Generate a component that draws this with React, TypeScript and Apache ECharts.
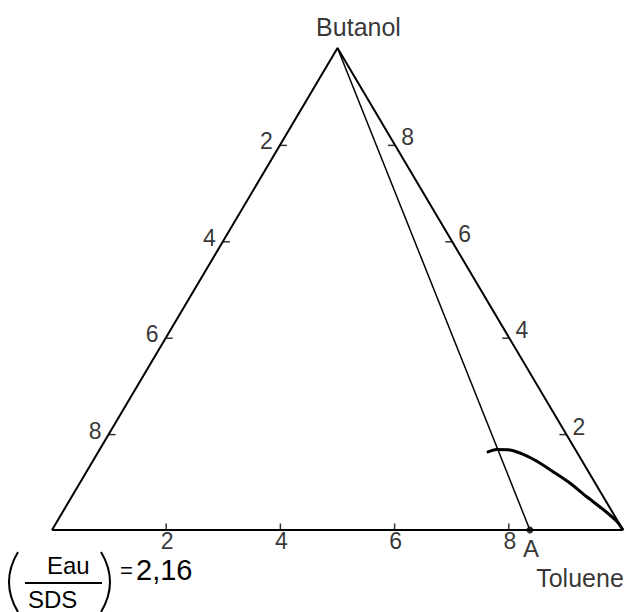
import React, { useEffect, useRef } from "react";
import * as echarts from "echarts";

// Ternary diagram: Eau/SDS (bottom-left), Toluene (bottom-right), Butanol (top); values in tenths
const TICKS = [2, 4, 6, 8];
const VERTICES = [
  { name: "", toluene: 0, butanol: 0 },
  { name: "Toluene", toluene: 10, butanol: 0 },
  { name: "Butanol", toluene: 0, butanol: 10 },
];
const POINT_A = { name: "A", toluene: 8.37, butanol: 0 };
const CURVE_TOLUENE = [6.81, 6.95, 7.19, 7.47, 7.77, 8.17, 8.59, 9.02, 9.45, 9.8, 10.0];
const CURVE_BUTANOL = [1.61, 1.67, 1.66, 1.57, 1.43, 1.21, 0.97, 0.69, 0.42, 0.18, 0];
const RATIO_NUM = "Eau";
const RATIO_DEN = "SDS";
const RATIO_VALUE = "2,16";

const tern = (t: number, b: number): [number, number] => [t + b / 2, b];

const FONT = "'Liberation Sans', Arial, sans-serif";
const INK = "#000";

export default function App() {
  const ref = useRef<HTMLDivElement>(null);
  useEffect(() => {
    if (!ref.current) return;
    const chart = echarts.init(ref.current, undefined, { renderer: "svg" });

    const tri = [VERTICES[0], VERTICES[1], VERTICES[2], VERTICES[0]].map((v) =>
      tern(v.toluene, v.butanol)
    );
    const apex = VERTICES[2];
    const labelStyle = { color: INK, fontSize: 23, fontFamily: FONT };

    chart.setOption({
      animation: false,
      backgroundColor: "#fff",
      grid: { left: 52, right: 3, top: 48, bottom: 82 },
      xAxis: { type: "value", min: 0, max: 10, show: false },
      yAxis: { type: "value", min: 0, max: 10, show: false },
      series: [
        {
          type: "line",
          data: tri,
          symbol: "none",
          lineStyle: { color: INK, width: 2 },
          silent: true,
        },
        {
          type: "line",
          data: [tern(apex.toluene, apex.butanol), tern(POINT_A.toluene, POINT_A.butanol)],
          symbol: "none",
          lineStyle: { color: INK, width: 1.5 },
        },
        {
          type: "line",
          data: CURVE_TOLUENE.map((t, i) => tern(t, CURVE_BUTANOL[i])),
          symbol: "none",
          smooth: 0.25,
          lineStyle: { color: INK, width: 3 },
        },
        // left edge (Eau/SDS fraction)
        {
          type: "scatter",
          symbol: "rect",
          symbolSize: [7, 1.5],
          symbolOffset: [3, 1],
          itemStyle: { color: INK },
          data: TICKS.map((w) => ({ name: String(w), value: tern(0, 10 - w) })),
          label: { show: true, position: "inside", offset: [-17, -4], formatter: "{b}", ...labelStyle },
        },
        // right edge (Butanol fraction)
        {
          type: "scatter",
          symbol: "rect",
          symbolSize: [7, 1.5],
          symbolOffset: [-3, 1],
          itemStyle: { color: INK },
          data: TICKS.map((b) => ({ name: String(b), value: tern(10 - b, b) })),
          label: { show: true, position: "inside", offset: [16, -8], formatter: "{b}", ...labelStyle },
        },
        // bottom edge (Toluene fraction)
        {
          type: "scatter",
          symbol: "rect",
          symbolSize: [1.5, 7],
          symbolOffset: [0, -3],
          itemStyle: { color: INK },
          data: TICKS.map((t) => ({ name: String(t), value: tern(t, 0) })),
          label: { show: true, position: "inside", offset: [1, 14], formatter: "{b}", ...labelStyle },
        },
        // point A
        {
          type: "scatter",
          symbol: "circle",
          symbolSize: 7,
          itemStyle: { color: INK },
          data: [{ name: POINT_A.name, value: tern(POINT_A.toluene, POINT_A.butanol) }],
          label: { show: true, position: "inside", offset: [1, 18], formatter: "{b}", ...labelStyle, fontSize: 24 },
        },
        // vertex names
        {
          type: "scatter",
          symbolSize: 0,
          data: [
            { name: VERTICES[2].name, value: tern(VERTICES[2].toluene, VERTICES[2].butanol), label: { offset: [21, -21] } },
            { name: VERTICES[1].name, value: tern(VERTICES[1].toluene, VERTICES[1].butanol), label: { offset: [-43, 48] } },
          ],
          label: { show: true, position: "inside", formatter: "{b}", color: INK, fontSize: 25, fontFamily: FONT },
        },
      ],
      graphic: [
        { type: "bezierCurve", shape: { x1: 18, y1: 552, x2: 18, y2: 612, cpx1: 0, cpy1: 582 }, style: { stroke: INK, lineWidth: 2, fill: null } },
        { type: "text", x: 47, y: 553, style: { text: RATIO_NUM, fontSize: 24, fontFamily: FONT, fill: INK, verticalAlign: "top" } },
        { type: "line", shape: { x1: 25, y1: 583, x2: 102, y2: 583 }, style: { stroke: INK, lineWidth: 2 } },
        { type: "text", x: 28, y: 587, style: { text: RATIO_DEN, fontSize: 24, fontFamily: FONT, fill: INK, verticalAlign: "top" } },
        { type: "bezierCurve", shape: { x1: 101, y1: 552, x2: 101, y2: 612, cpx1: 119, cpy1: 582 }, style: { stroke: INK, lineWidth: 2, fill: null } },
        { type: "text", x: 120, y: 559, style: { text: "=", fontSize: 22, fontFamily: FONT, fill: INK, verticalAlign: "top" } },
        { type: "text", x: 136, y: 555, style: { text: RATIO_VALUE, fontSize: 29, fontFamily: FONT, fill: INK, verticalAlign: "top" } },
      ],
    });
    return () => chart.dispose();
  }, []);
  return <div ref={ref} style={{ position: "fixed", left: 0, top: 0, width: 626, height: 612 }} />;
}
